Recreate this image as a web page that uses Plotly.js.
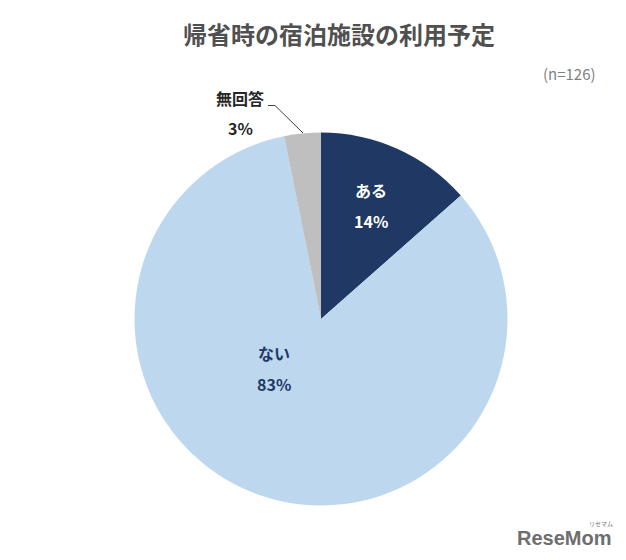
<!DOCTYPE html>
<html><head><meta charset="utf-8">
<script src="https://cdn.plot.ly/plotly-3.0.0.min.js"></script>
<style>html,body{margin:0;padding:0;background:#fff}</style></head>
<body><div id="c" style="width:626px;height:560px"></div>
<script>
const categories = ['ある','ない','無回答'];
const values = [17,105,4];
const percentLabels = ['14%','83%','3%'];
const colors = ['#1f3864','#bdd7ee','#bfbfbf'];
const F = '"Noto Sans CJK JP","Noto Sans",sans-serif';
const cx = 321, cy = 319, r = 186.5, W = 626, H = 560;
Plotly.newPlot('c',[{
  type:'pie',labels:categories,values:values,sort:false,direction:'clockwise',rotation:0,
  marker:{colors:colors,line:{color:'#fff',width:0}},textinfo:'none',hoverinfo:'label+percent',
  domain:{x:[(cx-r)/W,(cx+r)/W],y:[1-(cy+r)/H,1-(cy-r)/H]},showlegend:false
}],{
  width:W,height:H,margin:{l:0,r:0,t:0,b:0},paper_bgcolor:'#fff',showlegend:false,
  font:{family:F},
  annotations:[
    {text:'<b>帰省時の宿泊施設の利用予定</b>',x:338.5/W,y:1-33/H,font:{size:24,color:'#505050',family:F}},
    {text:'(n=126)',x:569/W,y:1-74/H,font:{size:15,color:'#7f7f7f',family:F}},
    {text:'<b>'+categories[0]+'</b>',x:371/W,y:1-190/H,font:{size:16,color:'#fff',family:F}},
    {text:'<b>'+percentLabels[0]+'</b>',x:371/W,y:1-221/H,font:{size:16,color:'#fff',family:F}},
    {text:'<b>'+categories[1]+'</b>',x:274/W,y:1-353/H,font:{size:16,color:'#1f3864',family:F}},
    {text:'<b>'+percentLabels[1]+'</b>',x:274/W,y:1-384/H,font:{size:16,color:'#1f3864',family:F}},
    {text:'<b>'+categories[2]+'</b>',x:240/W,y:1-98/H,font:{size:16,color:'#262626',family:F}},
    {text:'<b>'+percentLabels[2]+'</b>',x:240/W,y:1-128/H,font:{size:16,color:'#262626',family:F}},
    {text:'<b>ReseMom</b>',x:564/W,y:1-538/H,font:{size:20,color:'#6e6e6e',family:'"Liberation Sans",sans-serif'}},
    {text:'リセマム',x:601/W,y:1-523/H,font:{size:6,color:'#777777',family:F}}
  ].map(a=>Object.assign({xref:'paper',yref:'paper',showarrow:false,xanchor:'center',yanchor:'middle'},a)),
  shapes:[{type:'path',xref:'paper',yref:'paper',path:`M ${268/W} ${1-105.5/H} L ${275/W} ${1-105.5/H} L ${303/W} ${1-133/H}`,line:{color:'#404040',width:1}}]
},{displayModeBar:false});
</script></body></html>
